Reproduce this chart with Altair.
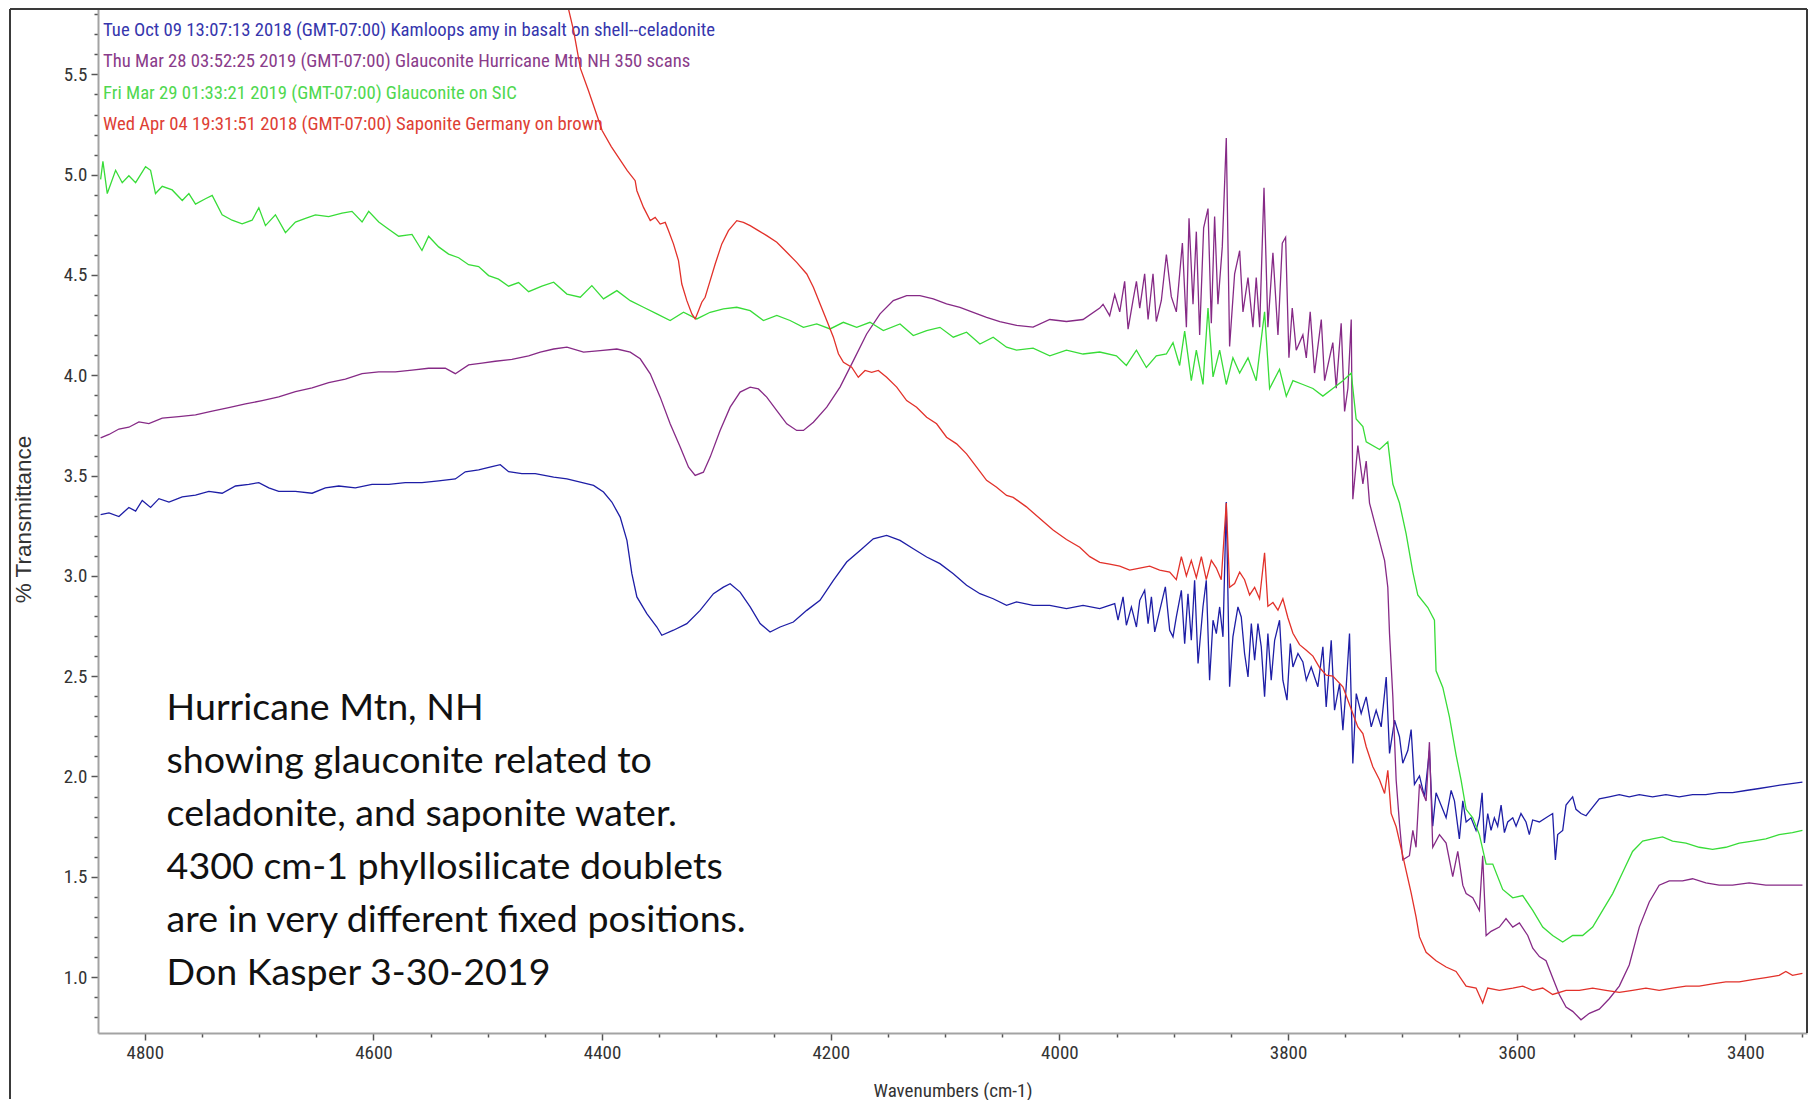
import altair as alt
import pandas as pd

# ---------------- data ----------------
BLUE_X = [4838.7, 4831.4, 4822.7, 4814.0, 4808.1, 4802.3, 4795.0, 4787.7, 4778.9, 4767.3, 4755.7, 4744.0,
          4732.4, 4720.7, 4709.1, 4700.3, 4691.6, 4682.9, 4668.3, 4653.7, 4642.1, 4630.4, 4615.9, 4601.3,
          4586.7, 4572.2, 4557.6, 4543.0, 4528.4, 4519.7, 4508.0, 4496.4, 4489.1, 4481.8, 4470.2, 4458.5,
          4442.4, 4430.8, 4419.1, 4407.5, 4398.8, 4391.5, 4384.2, 4378.3, 4374.0, 4369.6, 4360.9, 4352.1,
          4347.8, 4337.6, 4325.9, 4314.3, 4302.6, 4293.9, 4288.0, 4279.3, 4270.5, 4261.8, 4253.1, 4244.3,
          4232.7, 4221.0, 4209.4, 4197.7, 4186.1, 4174.4, 4162.8, 4151.1, 4139.4, 4127.8, 4116.1, 4104.5,
          4092.8, 4081.2, 4069.5, 4057.9, 4046.2, 4037.5, 4023.0, 4008.4, 3993.8, 3979.3, 3964.7, 3951.6,
          3948.7, 3944.3, 3941.4, 3937.0, 3932.6, 3929.7, 3925.4, 3922.4, 3919.5, 3916.6, 3912.2, 3907.3,
          3903.5, 3900.6, 3897.7, 3893.3, 3890.4, 3887.5, 3884.6, 3881.7, 3878.7, 3874.4, 3871.5, 3868.6,
          3865.6, 3862.7, 3859.8, 3856.9, 3854.0, 3851.1, 3848.2, 3843.8, 3840.9, 3838.0, 3835.0, 3832.1,
          3829.2, 3826.3, 3823.4, 3820.5, 3817.6, 3814.7, 3811.7, 3807.4, 3804.5, 3800.9, 3798.0, 3795.7,
          3791.3, 3787.0, 3784.0, 3779.7, 3776.8, 3773.9, 3769.5, 3766.6, 3762.2, 3759.3, 3754.9, 3752.0,
          3749.1, 3746.2, 3743.3, 3740.3, 3736.0, 3731.6, 3727.2, 3722.9, 3718.5, 3714.1, 3711.2, 3706.8,
          3702.5, 3699.6, 3695.2, 3692.3, 3689.4, 3685.0, 3680.6, 3676.3, 3673.4, 3670.5, 3666.1, 3661.7,
          3657.3, 3654.4, 3650.1, 3647.1, 3644.2, 3639.9, 3635.5, 3632.6, 3630.2, 3628.2, 3625.3, 3622.4,
          3619.5, 3616.6, 3613.6, 3610.7, 3607.8, 3603.4, 3600.5, 3596.2, 3591.8, 3588.9, 3586.0, 3580.1,
          3574.3, 3568.5, 3566.1, 3564.1, 3559.7, 3556.8, 3553.9, 3551.0, 3548.1, 3543.7, 3539.3, 3535.0,
          3527.7, 3519.0, 3510.2, 3501.5, 3492.7, 3481.1, 3469.4, 3457.8, 3446.1, 3434.5, 3422.8, 3411.1,
          3399.5, 3387.8, 3376.2, 3364.5, 3350.0]
BLUE_Y = [3.305, 3.314, 3.296, 3.341, 3.323, 3.376, 3.341, 3.385, 3.368, 3.394, 3.403, 3.421,
          3.412, 3.448, 3.456, 3.465, 3.439, 3.421, 3.421, 3.412, 3.439, 3.448, 3.439, 3.456,
          3.456, 3.465, 3.465, 3.474, 3.483, 3.519, 3.528, 3.545, 3.554, 3.519, 3.510, 3.510,
          3.492, 3.484, 3.467, 3.451, 3.418, 3.368, 3.293, 3.177, 3.011, 2.895, 2.812, 2.745,
          2.704, 2.729, 2.762, 2.828, 2.911, 2.944, 2.961, 2.919, 2.845, 2.762, 2.720, 2.745,
          2.770, 2.828, 2.878, 2.978, 3.069, 3.127, 3.185, 3.202, 3.177, 3.135, 3.094, 3.061,
          3.011, 2.953, 2.911, 2.886, 2.853, 2.870, 2.853, 2.853, 2.837, 2.853, 2.837, 2.862,
          2.779, 2.895, 2.754, 2.845, 2.745, 2.878, 2.928, 2.762, 2.895, 2.721, 2.828, 2.945,
          2.729, 2.696, 2.795, 2.928, 2.662, 2.911, 2.679, 2.978, 2.563, 2.845, 2.978, 2.480,
          2.779, 2.712, 2.845, 2.696, 3.368, 2.447, 2.696, 2.845, 2.795, 2.613, 2.496, 2.762,
          2.579, 2.762, 2.646, 2.397, 2.712, 2.480, 2.679, 2.779, 2.480, 2.380, 2.662, 2.546,
          2.613, 2.571, 2.480, 2.546, 2.496, 2.447, 2.646, 2.347, 2.679, 2.330, 2.463, 2.231,
          2.447, 2.712, 2.065, 2.413, 2.314, 2.397, 2.247, 2.330, 2.247, 2.496, 2.115, 2.281,
          2.198, 2.066, 2.129, 2.234, 1.961, 2.003, 1.898, 2.129, 1.752, 1.919, 1.857, 1.794,
          1.930, 1.878, 1.689, 1.878, 1.773, 1.794, 1.731, 1.794, 1.919, 1.668, 1.815, 1.731,
          1.794, 1.752, 1.857, 1.720, 1.773, 1.794, 1.752, 1.815, 1.773, 1.710, 1.783, 1.773,
          1.794, 1.815, 1.584, 1.710, 1.731, 1.857, 1.878, 1.898, 1.836, 1.815, 1.804, 1.836,
          1.888, 1.898, 1.909, 1.898, 1.909, 1.898, 1.909, 1.898, 1.909, 1.909, 1.919, 1.919,
          1.930, 1.940, 1.951, 1.961, 1.972]

PURPLE_X = [4838.7, 4831.4, 4822.7, 4814.0, 4805.2, 4796.5, 4784.8, 4770.3, 4755.7, 4741.1, 4726.6, 4712.0,
            4697.4, 4682.9, 4668.3, 4653.7, 4639.2, 4624.6, 4610.0, 4595.4, 4580.9, 4566.3, 4551.8, 4537.2,
            4528.4, 4516.8, 4505.1, 4493.5, 4478.9, 4464.3, 4454.1, 4442.4, 4430.8, 4416.2, 4401.7, 4387.1,
            4375.4, 4366.7, 4357.9, 4349.2, 4340.5, 4331.7, 4324.4, 4318.6, 4311.4, 4305.5, 4296.8, 4288.0,
            4279.3, 4270.5, 4263.3, 4256.0, 4247.2, 4238.5, 4229.8, 4223.9, 4215.2, 4203.5, 4191.9, 4180.2,
            4168.6, 4156.9, 4145.3, 4133.6, 4122.0, 4110.3, 4098.7, 4087.0, 4075.4, 4063.7, 4052.1, 4037.5,
            4023.0, 4008.4, 3993.8, 3979.3, 3964.7, 3961.8, 3956.0, 3951.6, 3947.2, 3942.9, 3939.9, 3935.6,
            3932.6, 3929.7, 3925.4, 3922.4, 3918.1, 3915.2, 3910.8, 3906.4, 3902.1, 3897.7, 3892.4, 3888.9,
            3886.6, 3883.1, 3880.2, 3877.3, 3873.8, 3870.0, 3867.1, 3864.2, 3861.3, 3857.5, 3854.0, 3851.1,
            3846.7, 3842.3, 3839.4, 3835.0, 3830.7, 3827.8, 3824.8, 3821.0, 3817.6, 3813.2, 3808.8, 3805.0,
            3802.1, 3799.2, 3796.3, 3792.8, 3787.0, 3784.0, 3780.6, 3776.8, 3770.9, 3768.0, 3763.7, 3760.8,
            3757.8, 3753.5, 3750.5, 3747.6, 3744.7, 3743.3, 3738.9, 3734.5, 3731.6, 3728.7, 3724.3, 3719.9,
            3715.5, 3712.7, 3711.2, 3708.3, 3705.4, 3702.5, 3699.6, 3693.8, 3690.8, 3688.0, 3685.0, 3679.2,
            3676.3, 3673.4, 3667.5, 3661.7, 3655.9, 3651.5, 3647.1, 3644.2, 3638.4, 3632.6, 3629.7, 3626.7,
            3622.4, 3615.1, 3609.3, 3603.4, 3597.6, 3590.3, 3585.9, 3580.1, 3574.3, 3568.5, 3562.7, 3556.8,
            3551.0, 3543.7, 3536.4, 3527.7, 3519.0, 3510.2, 3501.5, 3492.7, 3484.0, 3475.3, 3466.5, 3454.9,
            3446.1, 3434.5, 3422.8, 3411.1, 3396.6, 3382.0, 3367.4, 3350.0]
PURPLE_Y = [3.688, 3.705, 3.732, 3.741, 3.768, 3.759, 3.786, 3.794, 3.803, 3.821, 3.839, 3.857,
            3.874, 3.892, 3.919, 3.937, 3.963, 3.981, 4.008, 4.017, 4.017, 4.026, 4.035, 4.035,
            4.008, 4.052, 4.061, 4.070, 4.079, 4.097, 4.115, 4.131, 4.140, 4.115, 4.123, 4.131,
            4.115, 4.082, 4.007, 3.891, 3.758, 3.642, 3.542, 3.501, 3.517, 3.592, 3.725, 3.841,
            3.916, 3.941, 3.932, 3.891, 3.824, 3.758, 3.725, 3.725, 3.766, 3.841, 3.941, 4.073,
            4.206, 4.306, 4.372, 4.397, 4.397, 4.381, 4.356, 4.339, 4.314, 4.289, 4.268, 4.249,
            4.240, 4.278, 4.268, 4.278, 4.335, 4.354, 4.297, 4.402, 4.316, 4.468, 4.230, 4.373,
            4.468, 4.335, 4.506, 4.278, 4.506, 4.268, 4.373, 4.602, 4.392, 4.316, 4.659, 4.240,
            4.783, 4.354, 4.716, 4.201, 4.735, 4.831, 4.259, 4.792, 4.354, 4.640, 5.183, 4.144,
            4.506, 4.621, 4.316, 4.487, 4.240, 4.487, 4.240, 4.935, 4.240, 4.611, 4.201, 4.659,
            4.688, 4.087, 4.335, 4.125, 4.201, 4.087, 4.316, 4.011, 4.278, 3.973, 4.087, 4.163,
            3.935, 4.259, 3.820, 3.935, 4.278, 3.382, 3.649, 3.458, 3.572, 3.363, 3.267, 3.172,
            3.076, 2.943, 2.712, 2.397, 1.982, 1.766, 1.584, 1.605, 1.731, 1.647, 1.961, 1.878,
            2.171, 1.647, 1.710, 1.668, 1.500, 1.626, 1.458, 1.416, 1.395, 1.332, 1.605, 1.207,
            1.228, 1.249, 1.291, 1.249, 1.270, 1.207, 1.144, 1.102, 1.081, 0.997, 0.913, 0.850,
            0.829, 0.787, 0.819, 0.840, 0.892, 0.955, 1.060, 1.249, 1.374, 1.458, 1.479, 1.479,
            1.490, 1.469, 1.458, 1.458, 1.469, 1.458, 1.458, 1.458]

GREEN_X = [4838.7, 4836.7, 4832.9, 4825.6, 4819.8, 4814.0, 4808.1, 4799.4, 4795.0, 4790.7, 4784.8, 4776.1,
           4767.3, 4761.5, 4755.7, 4747.0, 4741.1, 4732.4, 4723.7, 4714.9, 4706.2, 4700.3, 4694.5, 4685.8,
           4677.0, 4668.3, 4659.5, 4650.8, 4639.2, 4627.5, 4618.8, 4610.0, 4604.2, 4595.4, 4586.7, 4578.0,
           4566.3, 4557.6, 4551.8, 4543.0, 4534.3, 4525.5, 4516.8, 4508.0, 4499.3, 4490.6, 4481.8, 4473.1,
           4464.3, 4452.7, 4442.4, 4430.8, 4419.1, 4409.0, 4398.8, 4387.1, 4375.4, 4363.8, 4352.1, 4340.5,
           4328.8, 4317.2, 4305.5, 4293.9, 4282.2, 4270.5, 4258.9, 4247.2, 4235.6, 4223.9, 4212.3, 4200.6,
           4189.0, 4177.3, 4165.7, 4154.0, 4139.4, 4127.8, 4116.1, 4104.5, 4092.8, 4081.2, 4069.5, 4057.9,
           4046.2, 4037.5, 4023.0, 4008.4, 3993.8, 3979.3, 3964.7, 3950.1, 3941.4, 3932.6, 3923.9, 3915.2,
           3906.4, 3900.6, 3894.8, 3890.4, 3884.6, 3880.2, 3874.4, 3870.0, 3865.6, 3859.8, 3854.0, 3848.2,
           3842.3, 3835.0, 3827.8, 3820.5, 3816.1, 3807.4, 3801.5, 3795.7, 3787.0, 3778.2, 3769.5, 3760.8,
           3752.0, 3744.7, 3740.4, 3734.5, 3731.6, 3719.9, 3712.7, 3708.3, 3702.5, 3696.7, 3690.8, 3686.5,
           3677.7, 3671.9, 3670.5, 3664.6, 3658.8, 3653.0, 3648.6, 3644.2, 3638.4, 3632.6, 3626.7, 3620.9,
           3612.2, 3603.4, 3594.7, 3585.9, 3577.2, 3568.5, 3559.7, 3551.0, 3542.3, 3533.5, 3524.8, 3516.0,
           3507.3, 3498.6, 3489.8, 3481.1, 3472.3, 3463.6, 3451.9, 3440.3, 3428.6, 3417.0, 3405.3, 3393.7,
           3382.0, 3370.4, 3358.7, 3350.0]
GREEN_Y = [4.977, 5.066, 4.906, 5.022, 4.960, 4.995, 4.960, 5.040, 5.022, 4.906, 4.942, 4.924,
           4.871, 4.906, 4.853, 4.880, 4.897, 4.800, 4.773, 4.755, 4.773, 4.835, 4.746, 4.800,
           4.711, 4.764, 4.782, 4.800, 4.791, 4.808, 4.817, 4.764, 4.817, 4.764, 4.728, 4.693,
           4.702, 4.622, 4.693, 4.640, 4.604, 4.586, 4.551, 4.542, 4.497, 4.479, 4.444, 4.462,
           4.417, 4.444, 4.464, 4.405, 4.389, 4.447, 4.381, 4.422, 4.372, 4.339, 4.306, 4.273,
           4.314, 4.281, 4.314, 4.331, 4.339, 4.322, 4.273, 4.298, 4.273, 4.239, 4.256, 4.231,
           4.264, 4.239, 4.264, 4.223, 4.256, 4.198, 4.223, 4.239, 4.190, 4.215, 4.156, 4.190,
           4.140, 4.125, 4.135, 4.097, 4.125, 4.106, 4.116, 4.097, 4.049, 4.125, 4.039, 4.097,
           4.106, 4.163, 4.049, 4.220, 3.973, 4.125, 3.954, 4.335, 3.992, 4.125, 3.954, 4.087,
           4.011, 4.087, 3.973, 4.316, 3.934, 4.030, 3.896, 3.973, 3.954, 3.934, 3.896, 3.934,
           3.973, 4.011, 3.782, 3.744, 3.668, 3.630, 3.668, 3.458, 3.363, 3.210, 3.019, 2.905,
           2.842, 2.779, 2.527, 2.444, 2.297, 2.108, 1.982, 1.836, 1.794, 1.710, 1.563, 1.563,
           1.437, 1.395, 1.406, 1.332, 1.249, 1.207, 1.175, 1.207, 1.207, 1.249, 1.332, 1.416,
           1.521, 1.626, 1.678, 1.689, 1.699, 1.678, 1.668, 1.647, 1.636, 1.647, 1.668, 1.678,
           1.689, 1.710, 1.720, 1.731]

RED_X = [4440.0, 4430.0, 4425.0, 4419.0, 4412.0, 4406.0, 4400.0, 4392.0, 4385.0, 4378.0, 4371.1, 4369.6,
         4363.8, 4357.9, 4353.6, 4349.2, 4344.8, 4341.9, 4337.6, 4333.2, 4330.3, 4325.9, 4321.5, 4318.6,
         4315.7, 4312.8, 4309.9, 4305.5, 4301.1, 4295.3, 4289.5, 4282.2, 4276.4, 4270.5, 4263.3, 4256.0,
         4247.2, 4238.5, 4229.8, 4221.0, 4215.2, 4209.4, 4203.5, 4197.7, 4193.3, 4188.9, 4181.7, 4175.9,
         4170.0, 4164.2, 4158.4, 4151.1, 4142.3, 4133.6, 4124.9, 4116.1, 4107.4, 4098.7, 4089.9, 4081.2,
         4072.4, 4063.7, 4054.9, 4046.2, 4040.4, 4028.8, 4017.1, 4005.5, 3993.8, 3982.2, 3973.4, 3964.7,
         3956.0, 3947.2, 3938.5, 3929.7, 3921.0, 3912.3, 3903.5, 3897.7, 3893.3, 3888.9, 3884.6, 3880.2,
         3875.8, 3871.5, 3867.1, 3862.7, 3858.4, 3854.0, 3851.1, 3846.7, 3842.3, 3838.0, 3833.6, 3829.2,
         3824.9, 3820.5, 3817.6, 3813.2, 3808.8, 3804.5, 3800.1, 3795.7, 3789.9, 3784.0, 3778.2, 3772.4,
         3766.6, 3760.8, 3752.0, 3743.3, 3738.9, 3734.5, 3731.6, 3725.8, 3719.9, 3715.5, 3712.7, 3709.8,
         3705.4, 3701.0, 3696.7, 3692.3, 3688.0, 3685.0, 3679.2, 3670.5, 3661.7, 3653.0, 3644.2, 3635.5,
         3629.7, 3625.3, 3615.1, 3603.4, 3594.7, 3585.9, 3577.2, 3568.5, 3556.8, 3545.2, 3533.5, 3521.9,
         3510.2, 3498.6, 3486.9, 3475.3, 3463.6, 3451.9, 3440.3, 3428.6, 3417.0, 3405.3, 3393.7, 3382.0,
         3370.4, 3364.5, 3358.7, 3350.0]
RED_Y = [6.150, 5.840, 5.720, 5.530, 5.420, 5.320, 5.220, 5.140, 5.080, 5.020, 4.970, 4.920,
         4.837, 4.771, 4.787, 4.754, 4.762, 4.721, 4.655, 4.572, 4.455, 4.372, 4.306, 4.281,
         4.322, 4.364, 4.389, 4.472, 4.555, 4.655, 4.721, 4.771, 4.762, 4.746, 4.721, 4.696,
         4.663, 4.613, 4.563, 4.505, 4.439, 4.356, 4.273, 4.190, 4.107, 4.065, 4.040, 3.990,
         4.024, 4.015, 4.024, 3.990, 3.941, 3.874, 3.841, 3.791, 3.758, 3.691, 3.658, 3.608,
         3.542, 3.476, 3.442, 3.401, 3.391, 3.344, 3.286, 3.229, 3.181, 3.143, 3.096, 3.067,
         3.058, 3.048, 3.029, 3.039, 3.048, 3.029, 3.019, 2.981, 3.096, 3.000, 3.077, 2.991,
         3.096, 2.981, 3.077, 3.039, 2.981, 3.363, 2.943, 2.962, 3.019, 2.981, 2.905, 2.943,
         2.886, 3.115, 2.848, 2.867, 2.829, 2.886, 2.791, 2.714, 2.657, 2.629, 2.600, 2.543,
         2.505, 2.500, 2.447, 2.314, 2.247, 2.214, 2.148, 2.048, 1.982, 1.915, 2.031, 1.816,
         1.749, 1.640, 1.530, 1.420, 1.300, 1.200, 1.123, 1.081, 1.050, 1.028, 0.955, 0.945,
         0.871, 0.945, 0.934, 0.945, 0.955, 0.934, 0.945, 0.913, 0.934, 0.934, 0.945, 0.934,
         0.924, 0.934, 0.945, 0.934, 0.945, 0.955, 0.955, 0.966, 0.976, 0.976, 0.987, 0.997,
         1.008, 1.028, 1.008, 1.018]

SERIES_NAMES = ["Kamloops celadonite", "Glauconite Hurricane Mtn NH", "Glauconite on SIC", "Saponite Germany"]
LINE_COLORS = ["#1e1ea6", "#862a86", "#38dc38", "#e2312a"]
LEGEND_LINES = [
    "Tue Oct 09 13:07:13 2018 (GMT-07:00) Kamloops amy in basalt on shell--celadonite",
    "Thu Mar 28 03:52:25 2019 (GMT-07:00) Glauconite Hurricane Mtn NH 350 scans",
    "Fri Mar 29 01:33:21 2019 (GMT-07:00) Glauconite on SIC",
    "Wed Apr 04 19:31:51 2018 (GMT-07:00) Saponite Germany on brown",
]
LEGEND_COLORS = ["#3636ad", "#8a3c8a", "#4fd84f", "#de4034"]
ANNOT_LINES = [
    "Hurricane Mtn, NH",
    "showing glauconite related to",
    "celadonite, and saponite water.",
    "4300 cm-1 phyllosilicate doublets",
    "are in very different fixed positions.",
    "Don Kasper 3-30-2019",
]
ANNOT_POS = {"wn": [4781.0], "t": [2.28]}
X_DOMAIN = [3346.0, 4841.0]
Y_DOMAIN = [0.721, 5.826]

# ---------------- chart ----------------
W, H = 1709, 1024
NARROW = "Liberation Sans Narrow, Arial Narrow, Roboto Condensed, Liberation Sans, sans-serif"

x_ticks = list(range(3350, 4841, 50))
y_ticks = [round(0.8 + 0.1 * i, 1) for i in range(51)]

x_enc = alt.X(
    "wn:Q",
    scale=alt.Scale(domain=X_DOMAIN, reverse=True, nice=False, zero=False),
    axis=alt.Axis(
        title="Wavenumbers (cm-1)",
        values=x_ticks,
        labelExpr="datum.value % 200 === 0 ? '' + datum.value : ''",
        tickSize={"condition": {"test": "datum.value % 200 === 0", "value": 7}, "value": 4},
        labelOverlap=False,
        labelPadding=3,
        titleY=57,
        titleBaseline="middle",
    ),
)
y_enc = alt.Y(
    "t:Q",
    scale=alt.Scale(domain=Y_DOMAIN, nice=False, zero=False),
    axis=alt.Axis(
        title="% Transmittance",
        values=y_ticks,
        labelExpr="abs(datum.value * 2 - round(datum.value * 2)) < 0.01 ? format(datum.value, '.1f') : ''",
        tickSize={"condition": {"test": "abs(datum.value * 2 - round(datum.value * 2)) < 0.01", "value": 7}, "value": 4},
        labelOverlap=False,
        labelPadding=4,
        titleX=-75,
        titleY=510,
        titleBaseline="middle",
        titleAlign="center",
        titleFont="Liberation Sans, Arial, sans-serif",
        titleFontSize=22.5,
    ),
)

one = pd.DataFrame({"a": [0]})
layers = []

# legend text lines
for i, (txt, col) in enumerate(zip(LEGEND_LINES, LEGEND_COLORS)):
    layers.append(
        alt.Chart(one).mark_text(
            text=txt, align="left", baseline="middle", font=NARROW, fontSize=18.7, color=col
        ).encode(x=alt.value(5), y=alt.value(21 + i * 31.3))
    )

# annotation
layers.append(
    alt.Chart(pd.DataFrame(ANNOT_POS)).mark_text(
        text=ANNOT_LINES, align="left", baseline="alphabetic", font="Lato", fontSize=37.6,
        lineHeight=53, color="#111111"
    ).encode(x=x_enc, y=y_enc)
)

# spectra
for name, xs, ys, col in zip(SERIES_NAMES,
                             [BLUE_X, PURPLE_X, GREEN_X, RED_X],
                             [BLUE_Y, PURPLE_Y, GREEN_Y, RED_Y],
                             LINE_COLORS):
    d = pd.DataFrame({"wn": xs, "t": ys, "series": name})
    layers.append(
        alt.Chart(d).mark_line(color=col, strokeWidth=1.3, clip=True).encode(x=x_enc, y=y_enc)
    )

# frame lines
frame = "#3a3a3a"
layers.append(alt.Chart(one).mark_rule(color=frame, strokeWidth=2).encode(
    x=alt.value(-88), x2=alt.value(W), y=alt.value(0)))
layers.append(alt.Chart(one).mark_rule(color=frame, strokeWidth=2).encode(
    x=alt.value(W), y=alt.value(0), y2=alt.value(H)))
layers.append(alt.Chart(one).mark_rule(color=frame, strokeWidth=2).encode(
    x=alt.value(-88), y=alt.value(0), y2=alt.value(H + 66)))

chart = alt.layer(*layers).properties(
    width=W,
    height=H,
    padding={"left": 90, "top": 1, "right": 1, "bottom": 67},
    autosize=alt.AutoSizeParams(type="none"),
    background="white",
).configure_view(
    stroke=None
).configure_axis(
    grid=False,
    domainColor="#a3a3a3",
    domainWidth=2,
    tickColor="#555555",
    tickWidth=1.5,
    labelFont=NARROW,
    labelFontSize=19,
    labelColor="#333333",
    titleFont=NARROW,
    titleFontSize=19,
    titleFontWeight="normal",
    titleColor="#333333",
)

chart.save("out.html", embed_options={"renderer": "svg", "actions": False})
